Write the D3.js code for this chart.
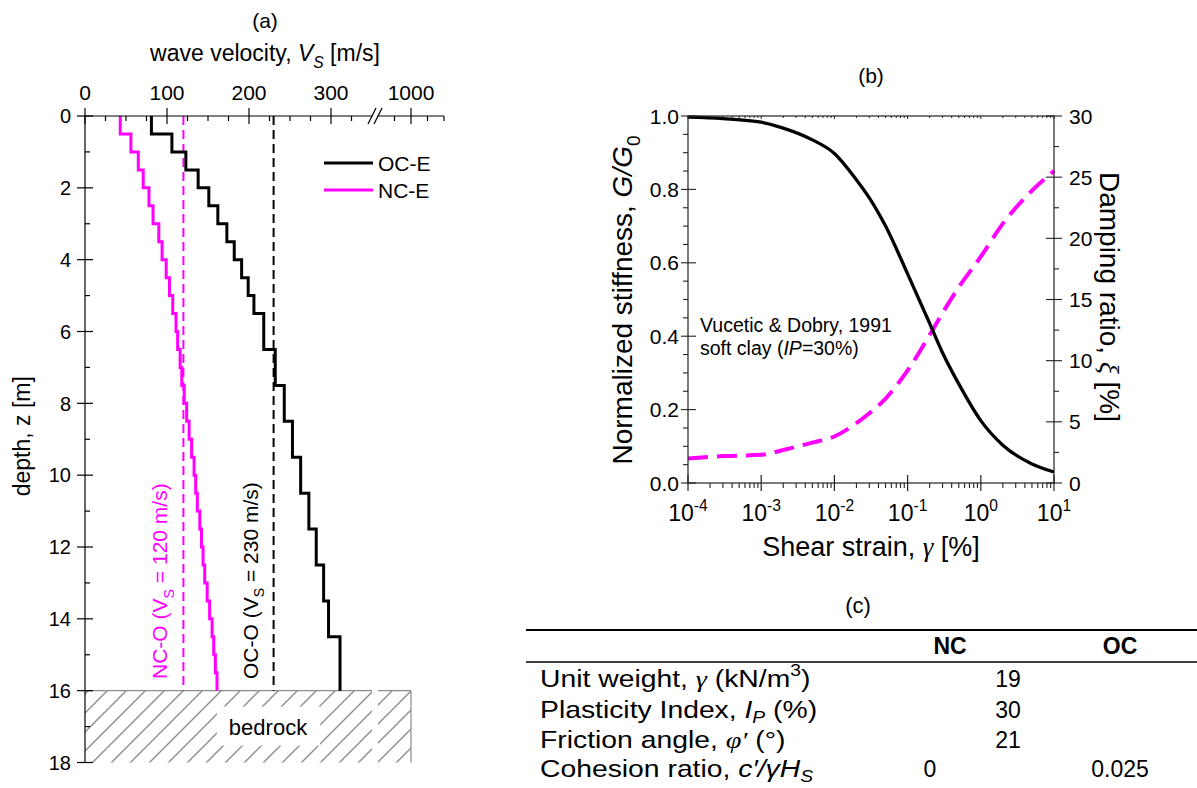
<!DOCTYPE html>
<html><head><meta charset="utf-8">
<script src="https://cdn.jsdelivr.net/npm/d3@7"></script>
<style>
body{margin:0;background:#fff}
svg{display:block}
text{font-family:"Liberation Sans",Arial,sans-serif;fill:#000}
</style>
</head><body>
<svg id="c" width="1197" height="788"></svg>
<script>
// ================= DATA =================
// Panel (a): shear wave velocity profiles
const vsTickValues = [0, 100, 200, 300, 1000];
const vsMinorTicks = [25, 50, 75, 125, 150, 175, 225, 250, 275, 325, 975, 1025, 1050];
const depthTicks = [0, 2, 4, 6, 8, 10, 12, 14, 16, 18];
const depthMinor = [1, 3, 5, 7, 9, 11, 13, 15, 17];
// OC-E: layer boundaries (m) and Vs of each layer (m/s)
const ocBounds = [0, 0.5, 1, 1.5, 2, 2.5, 3, 3.5, 4, 4.5, 5, 5.5, 6.5, 7.5, 8.5, 9.5, 10.5, 11.5, 12.5, 13.5, 14.5, 16];
const ocVs = [81, 106, 123, 138, 151, 162, 173, 182, 191, 199, 206, 218, 232, 243, 253, 263, 273, 282, 291, 297, 311];
// NC-E
const ncBounds = [0, 0.5, 1, 1.5, 2, 2.5, 3, 3.5, 4, 4.5, 5, 5.5, 6, 6.5, 7, 7.5, 8, 8.5, 9, 9.5, 10, 10.5, 11, 11.5, 12, 12.5, 13, 13.5, 14, 14.5, 15, 15.5, 16];
const ncVs = [43, 56, 65, 71, 78, 83, 90, 94, 99, 103, 107, 111, 113, 116, 118, 121, 124, 127, 130, 133, 135, 137, 140, 142, 144, 146, 149, 152, 155, 157, 159, 161];
const ocRefVs = 230, ncRefVs = 120;
const bedrockTop = 16, bedrockBottom = 18, bedrockVs = 1000;
const axisBreak = [350, 950];

// Panel (b): modulus reduction and damping (Vucetic & Dobry 1991, IP=30%)
const strain = [1e-4, 3e-4, 1e-3, 2e-3, 5e-3, 1e-2, 2e-2, 3e-2, 5e-2, 0.1, 0.2, 0.3, 0.5, 1, 2, 5, 10];
const gRatio = [0.997, 0.993, 0.983, 0.967, 0.935, 0.898, 0.826, 0.777, 0.700, 0.570, 0.435, 0.355, 0.270, 0.170, 0.103, 0.052, 0.030];
const damping = [2.0, 2.2, 2.3, 2.7, 3.3, 3.8, 4.9, 5.7, 6.9, 9.2, 12.1, 13.9, 16.0, 18.5, 21.2, 23.9, 25.5];
const strainMajor = [1e-4, 1e-3, 1e-2, 1e-1, 1, 10];
const strainExp = ["-4", "-3", "-2", "-1", "0", "1"];
const gTicks = [0, 0.2, 0.4, 0.6, 0.8, 1.0];
const dTicks = [0, 5, 10, 15, 20, 25, 30];

// Panel (c): table
const tableHeader = ["NC", "OC"];
const tableValuesNC = ["19", "30", "21", "0"];
const tableValuesOC = ["", "", "", "0.025"];
const tableShared = [true, true, true, false];

// ================= DRAW =================
const svg = d3.select("#c");
const MAG = "#ff00ff";
const SERIF = '"Liberation Serif","Times New Roman",serif';

function rich(sel, parts, size, subShift) {
  const ss = subShift === undefined ? 0.3 : subShift;
  let shift = 0;
  parts.forEach(p => {
    const ts = sel.append("tspan").text(p.t);
    let target = 0, fs = size;
    if (p.sub) { target = size * ss; fs = size * 0.68; }
    if (p.sup) { target = -size * 0.45; fs = size * 0.68; }
    ts.attr("font-size", fs);
    if (target !== shift) { ts.attr("dy", target - shift); shift = target; }
    if (p.i) ts.attr("font-style", "italic");
    if (p.f) ts.attr("font-family", p.f);
    if (p.b) ts.attr("font-weight", "bold");
  });
  return sel;
}

const defs = svg.append("defs");
defs.append("pattern").attr("id", "hatch").attr("patternUnits", "userSpaceOnUse")
  .attr("width", 19).attr("height", 19)
  .append("path").attr("d", "M-3,3 L3,-3 M0,19 L19,0 M16,22 L22,16")
  .attr("stroke", "#8c8c8c").attr("stroke-width", 1.4);

// ---------- Panel (a)
const xA = d3.scaleLinear().domain([0, axisBreak[0], axisBreak[1], 1050]).range([85, 372, 378, 444]);
const yA = d3.scaleLinear().domain([0, 18]).range([116, 762.5]);
const gA = svg.append("g");

// bedrock
const brY0 = yA(bedrockTop), brY1 = yA(bedrockBottom);
[[0, axisBreak[0]], [axisBreak[1], bedrockVs]].forEach(([a, b]) => {
  gA.append("rect").attr("x", xA(a)).attr("y", brY0).attr("width", xA(b) - xA(a)).attr("height", brY1 - brY0)
    .attr("fill", "url(#hatch)");
  gA.append("line").attr("x1", xA(a)).attr("x2", xA(b)).attr("y1", brY0).attr("y2", brY0)
    .attr("stroke", "#8c8c8c").attr("stroke-width", 1.2);
});
gA.append("line").attr("x1", xA(bedrockVs)).attr("x2", xA(bedrockVs)).attr("y1", brY0).attr("y2", brY1)
  .attr("stroke", "#8c8c8c").attr("stroke-width", 1.2);
const brText = gA.append("text").attr("x", (xA(0) + xA(bedrockVs)) / 2 + 20).attr("y", (brY0 + brY1) / 2 + 8)
  .attr("text-anchor", "middle").attr("font-size", 22).text("bedrock");
const bb = brText.node().getBBox();
gA.insert("rect", "text").attr("x", bb.x - 12).attr("y", bb.y - 8).attr("width", bb.width + 24).attr("height", bb.height + 14)
  .attr("fill", "#fff");

// reference dashed lines
[[ncRefVs, MAG], [ocRefVs, "#000"]].forEach(([v, c]) => {
  gA.append("line").attr("x1", xA(v)).attr("x2", xA(v)).attr("y1", yA(0)).attr("y2", yA(bedrockTop))
    .attr("stroke", c).attr("stroke-width", 2).attr("stroke-dasharray", "9,5");
});

// step profiles
function stepPts(bounds, vs) {
  const pts = [];
  vs.forEach((v, i) => { pts.push([v, bounds[i]]); pts.push([v, bounds[i + 1]]); });
  return pts;
}
const lineA = d3.line().x(d => xA(d[0])).y(d => yA(d[1]));
gA.append("path").attr("d", lineA(stepPts(ncBounds, ncVs))).attr("fill", "none").attr("stroke", MAG).attr("stroke-width", 3);
gA.append("path").attr("d", lineA(stepPts(ocBounds, ocVs))).attr("fill", "none").attr("stroke", "#000").attr("stroke-width", 3);

// axes (a)
gA.append("line").attr("x1", xA(0)).attr("x2", xA(1050)).attr("y1", yA(0)).attr("y2", yA(0)).attr("stroke", "#000").attr("stroke-width", 1.2);
gA.append("line").attr("x1", xA(0)).attr("x2", xA(0)).attr("y1", yA(0)).attr("y2", yA(18)).attr("stroke", "#000").attr("stroke-width", 1.2);
vsTickValues.forEach(v => {
  gA.append("line").attr("x1", xA(v)).attr("x2", xA(v)).attr("y1", yA(0) - 8).attr("y2", yA(0) + 8).attr("stroke", "#000").attr("stroke-width", 1.2);
  gA.append("text").attr("x", xA(v)).attr("y", 100).attr("text-anchor", "middle").attr("font-size", 21).text(v);
});
vsMinorTicks.forEach(v => {
  gA.append("line").attr("x1", xA(v)).attr("x2", xA(v)).attr("y1", yA(0)).attr("y2", yA(0) + 5).attr("stroke", "#000").attr("stroke-width", 1.2);
});
// axis break marks
const bx = (xA(axisBreak[0]) + xA(axisBreak[1])) / 2;
gA.append("rect").attr("x", bx - 2.5).attr("y", yA(0) - 2).attr("width", 5).attr("height", 4).attr("fill", "#fff");
[-3, 3].forEach(o => {
  gA.append("line").attr("x1", bx + o - 4).attr("x2", bx + o + 4).attr("y1", yA(0) + 8).attr("y2", yA(0) - 8)
    .attr("stroke", "#000").attr("stroke-width", 1.2);
});
depthTicks.forEach(d => {
  gA.append("line").attr("x1", xA(0) - 8).attr("x2", xA(0) + 8).attr("y1", yA(d)).attr("y2", yA(d)).attr("stroke", "#000").attr("stroke-width", 1.2);
  gA.append("text").attr("x", 71).attr("y", yA(d)).attr("dy", "0.36em").attr("text-anchor", "end").attr("font-size", 20).text(d);
});
depthMinor.forEach(d => {
  gA.append("line").attr("x1", xA(0)).attr("x2", xA(0) + 5).attr("y1", yA(d)).attr("y2", yA(d)).attr("stroke", "#000").attr("stroke-width", 1.2);
});
gA.append("text").attr("x", 265).attr("y", 28).attr("text-anchor", "middle").attr("font-size", 21).text("(a)");
rich(gA.append("text").attr("x", 265).attr("y", 61).attr("text-anchor", "middle"),
  [{ t: "wave velocity, " }, { t: "V", i: 1 }, { t: "S", i: 1, sub: 1 }, { t: " [m/s]" }], 23);
gA.append("text").attr("transform", `translate(30,${yA(9) - 3}) rotate(-90)`).attr("text-anchor", "middle").attr("font-size", 23).text("depth, z [m]");

// rotated profile labels
[[ncRefVs, MAG, "NC-O (V", " = 120 m/s)"], [ocRefVs, "#000", "OC-O (V", " = 230 m/s)"]].forEach(([v, c, a, b]) => {
  const t = gA.append("text").attr("transform", `translate(${xA(v) - 16},679) rotate(-90)`).attr("font-size", 21).style("fill", c);
  rich(t, [{ t: a }, { t: "S", sub: 1 }, { t: b }], 21);
  t.selectAll("tspan").style("fill", c);
});

// legend
[["OC-E", "#000", 163], ["NC-E", MAG, 190]].forEach(([n, c, y]) => {
  gA.append("line").attr("x1", 324).attr("x2", 373).attr("y1", y).attr("y2", y).attr("stroke", c).attr("stroke-width", 3);
  gA.append("text").attr("x", 378).attr("y", y).attr("dy", "0.36em").attr("font-size", 21).text(n);
});

// ---------- Panel (b)
const xB = d3.scaleLog().domain([1e-4, 10]).range([688, 1054]);
const yB = d3.scaleLinear().domain([0, 1]).range([483, 116]);
const yBR = d3.scaleLinear().domain([0, 30]).range([483, 116]);
const gB = svg.append("g");
const AX = "#222";

const gLine = d3.line().x((d, i) => xB(strain[i])).y(d => yB(d)).curve(d3.curveMonotoneX);
const dLine = d3.line().x((d, i) => xB(strain[i])).y(d => yBR(d)).curve(d3.curveMonotoneX);
gB.append("path").attr("d", dLine(damping)).attr("fill", "none").attr("stroke", MAG).attr("stroke-width", 4).attr("stroke-dasharray", "20,9");
gB.append("path").attr("d", gLine(gRatio)).attr("fill", "none").attr("stroke", "#000").attr("stroke-width", 3.3);

// frame
gB.append("rect").attr("x", xB(1e-4)).attr("y", yB(1)).attr("width", xB(10) - xB(1e-4)).attr("height", yB(0) - yB(1))
  .attr("fill", "none").attr("stroke", AX).attr("stroke-width", 1.2);
// x ticks
const xMinorB = xB.ticks().filter(v => !strainMajor.some(m => Math.abs(m - v) / m < 1e-6));
xMinorB.forEach(v => {
  gB.append("line").attr("x1", xB(v)).attr("x2", xB(v)).attr("y1", yB(0)).attr("y2", yB(0) + 5).attr("stroke", AX).attr("stroke-width", 1.1);
  gB.append("line").attr("x1", xB(v)).attr("x2", xB(v)).attr("y1", yB(1)).attr("y2", yB(1) + 2).attr("stroke", AX).attr("stroke-width", 1);
});
strainMajor.forEach((v, i) => {
  gB.append("line").attr("x1", xB(v)).attr("x2", xB(v)).attr("y1", yB(0) - 8).attr("y2", yB(0) + 8).attr("stroke", AX).attr("stroke-width", 1.2);
  gB.append("line").attr("x1", xB(v)).attr("x2", xB(v)).attr("y1", yB(1)).attr("y2", yB(1) + 3).attr("stroke", AX).attr("stroke-width", 1);
  const t = gB.append("text").attr("x", xB(v)).attr("y", 521).attr("text-anchor", "middle");
  rich(t, [{ t: "10" }, { t: strainExp[i], sup: 1 }], 23);
});
// left y ticks
d3.range(0, 1.0001, 0.05).forEach(v => {
  const major = gTicks.some(m => Math.abs(m - v) < 1e-6);
  gB.append("line").attr("x1", xB(1e-4) - (major ? 7 : 5)).attr("x2", xB(1e-4) + (major ? 8 : 0)).attr("y1", yB(v)).attr("y2", yB(v))
    .attr("stroke", AX).attr("stroke-width", 1.1);
});
gTicks.forEach(v => {
  gB.append("text").attr("x", 679).attr("y", yB(v)).attr("dy", "0.36em").attr("text-anchor", "end").attr("font-size", 21).text(v.toFixed(1));
});
// right y ticks
d3.range(0, 30.001, 2.5).forEach(v => {
  const major = dTicks.includes(v);
  gB.append("line").attr("x1", xB(10) - (major ? 8 : 0)).attr("x2", xB(10) + (major ? 8 : 5)).attr("y1", yBR(v)).attr("y2", yBR(v))
    .attr("stroke", AX).attr("stroke-width", 1.1);
});
dTicks.forEach(v => {
  gB.append("text").attr("x", 1069).attr("y", yBR(v)).attr("dy", "0.36em").attr("font-size", 21).text(v);
});
// titles
gB.append("text").attr("x", 871).attr("y", 83).attr("text-anchor", "middle").attr("font-size", 21).text("(b)");
rich(gB.append("text").attr("transform", "translate(632,300) rotate(-90)").attr("text-anchor", "middle"),
  [{ t: "Normalized stiffness, " }, { t: "G/G", i: 1 }, { t: "0", sub: 1 }], 28);
rich(gB.append("text").attr("transform", "translate(1100,297) rotate(90)").attr("text-anchor", "middle"),
  [{ t: "Damping ratio, " }, { t: "ξ", i: 1, f: SERIF }, { t: " [%]" }], 28);
rich(gB.append("text").attr("x", 871).attr("y", 556).attr("text-anchor", "middle"),
  [{ t: "Shear strain, " }, { t: "γ", i: 1, f: SERIF }, { t: " [%]" }], 27);
gB.append("text").attr("x", 700).attr("y", 332).attr("font-size", 19.5).text("Vucetic & Dobry, 1991");
rich(gB.append("text").attr("x", 700).attr("y", 355),
  [{ t: "soft clay (" }, { t: "IP", i: 1 }, { t: "=30%)" }], 19.5);

// ---------- Panel (c) table
const gC = svg.append("g");
function tText(x, y, anchor, stretch) {
  return gC.append("g").attr("transform", `translate(${x},${y}) scale(${stretch || 1},1)`)
    .append("text").attr("text-anchor", anchor);
}
tText(858, 613, "middle").attr("font-size", 22).text("(c)");
gC.append("line").attr("x1", 526).attr("x2", 1197).attr("y1", 630).attr("y2", 630).attr("stroke", "#000").attr("stroke-width", 2);
gC.append("line").attr("x1", 526).attr("x2", 1197).attr("y1", 662).attr("y2", 662).attr("stroke", "#000").attr("stroke-width", 1.6);
const colX = [950, 1120];
tableHeader.forEach((h, i) => {
  tText(colX[i], 654, "middle").attr("font-size", 23).attr("font-weight", "bold").text(h);
});
const rowLabels = [
  [{ t: "Unit weight, " }, { t: "γ", i: 1, f: SERIF }, { t: " (kN/m" }, { t: "3", sup: 1 }, { t: ")" }],
  [{ t: "Plasticity Index, " }, { t: "I", i: 1 }, { t: "P", i: 1, sub: 1 }, { t: " (%)" }],
  [{ t: "Friction angle, " }, { t: "φ′", i: 1, f: SERIF }, { t: " (°)" }],
  [{ t: "Cohesion ratio, " }, { t: "c′/γH", i: 1 }, { t: "S", i: 1, sub: 1 }]
];
const rowY = [687, 718, 748, 777];
rowLabels.forEach((parts, r) => {
  rich(tText(540, rowY[r], "start", 1.18), parts, 24, 0.22);
  if (tableShared[r]) {
    tText(1008, rowY[r], "middle").attr("font-size", 23).text(tableValuesNC[r]);
  } else {
    tText(930, rowY[r], "middle").attr("font-size", 23).text(tableValuesNC[r]);
    tText(colX[1], rowY[r], "middle").attr("font-size", 23).text(tableValuesOC[r]);
  }
});
</script>
</body></html>
